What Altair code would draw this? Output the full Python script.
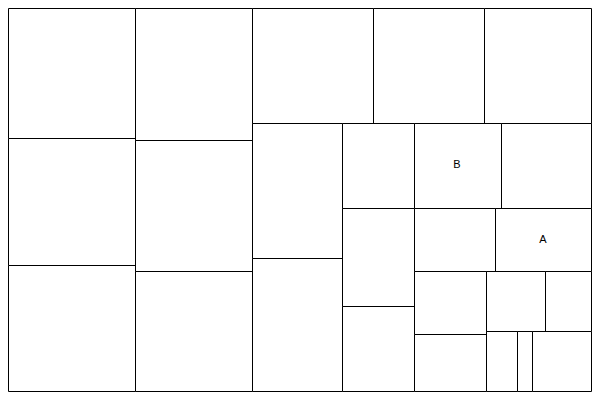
import altair as alt
import pandas as pd

# Values of the 25 cells, in layout order (areas)
values = [17550, 17200, 17120,
          16580, 16610, 15090,
          14830, 13560, 13120,
          12970, 12790,
          6590, 7920, 8250,
          7530, 6590,
          5480, 6510,
          4810, 4420,
          3720, 2960,
          2010, 940, 3810]
labels = [""] * 25
labels[12] = "B"
labels[17] = "A"

W_DOM, H_DOM = 599, 399
PX_W, PX_H = 584, 384


def squarify(vals, x0, y0, x1, y1):
    """Squarified treemap (ratio 1), d3-style, keeping input order."""
    rects = []
    n = len(vals)
    i0 = 0
    total = float(sum(vals))
    while i0 < n:
        dx, dy = x1 - x0, y1 - y0
        i1 = i0
        s = vals[i1]
        i1 += 1
        mn = mx = s
        alpha = max(dy / dx, dx / dy) / total
        beta = s * s * alpha
        minr = max(mx / beta, beta / mn)
        while i1 < n:
            v = vals[i1]
            s2 = s + v
            mn2, mx2 = min(mn, v), max(mx, v)
            beta = s2 * s2 * alpha
            r = max(mx2 / beta, beta / mn2)
            if r > minr:
                break
            s, mn, mx, minr = s2, mn2, mx2, r
            i1 += 1
        row = vals[i0:i1]
        if dx < dy:
            h = dy * s / total
            xx = x0
            for v in row:
                w = dx * v / s
                rects.append((xx, y0, xx + w, y0 + h))
                xx += w
            y0 += h
        else:
            w = dx * s / total
            yy = y0
            for v in row:
                h = dy * v / s
                rects.append((x0, yy, x0 + w, yy + h))
                yy += h
            x0 += w
        total -= s
        i0 = i1
    return rects


cells = squarify(values, 0, 0, W_DOM, H_DOM)
df = pd.DataFrame({
    "x": [c[0] for c in cells],
    "y": [c[1] for c in cells],
    "x2": [c[2] for c in cells],
    "y2": [c[3] for c in cells],
    "value": values,
    "label": labels,
})
df["cx"] = (df["x"] + df["x2"]) / 2
df["cy"] = (df["y"] + df["y2"]) / 2

xs = alt.Scale(domain=[0, W_DOM], range=[0, PX_W - 1], round=True, nice=False, zero=False)
ys = alt.Scale(domain=[0, H_DOM], range=[0, PX_H - 1], round=True, nice=False, zero=False)

base = alt.Chart(df)
rects = base.mark_rect(
    fill="white", stroke="black", strokeWidth=1,
    xOffset=0.5, x2Offset=0.5, yOffset=0.5, y2Offset=0.5,
).encode(
    x=alt.X("x:Q", scale=xs, axis=None),
    x2="x2:Q",
    y=alt.Y("y:Q", scale=ys, axis=None),
    y2="y2:Q",
)
text = base.transform_filter("datum.label != ''").mark_text(
    font="Liberation Sans", fontSize=11, color="black",
    align="center", baseline="middle",
).encode(
    x=alt.X("cx:Q", scale=xs, axis=None),
    y=alt.Y("cy:Q", scale=ys, axis=None),
    text="label:N",
)

chart = (rects + text).properties(
    width=PX_W, height=PX_H, padding=0,
    autosize=alt.AutoSizeParams(type="none"),
    background="white",
).configure_view(stroke=None)

chart.save("out.html", embed_options={"renderer": "svg", "actions": False})
